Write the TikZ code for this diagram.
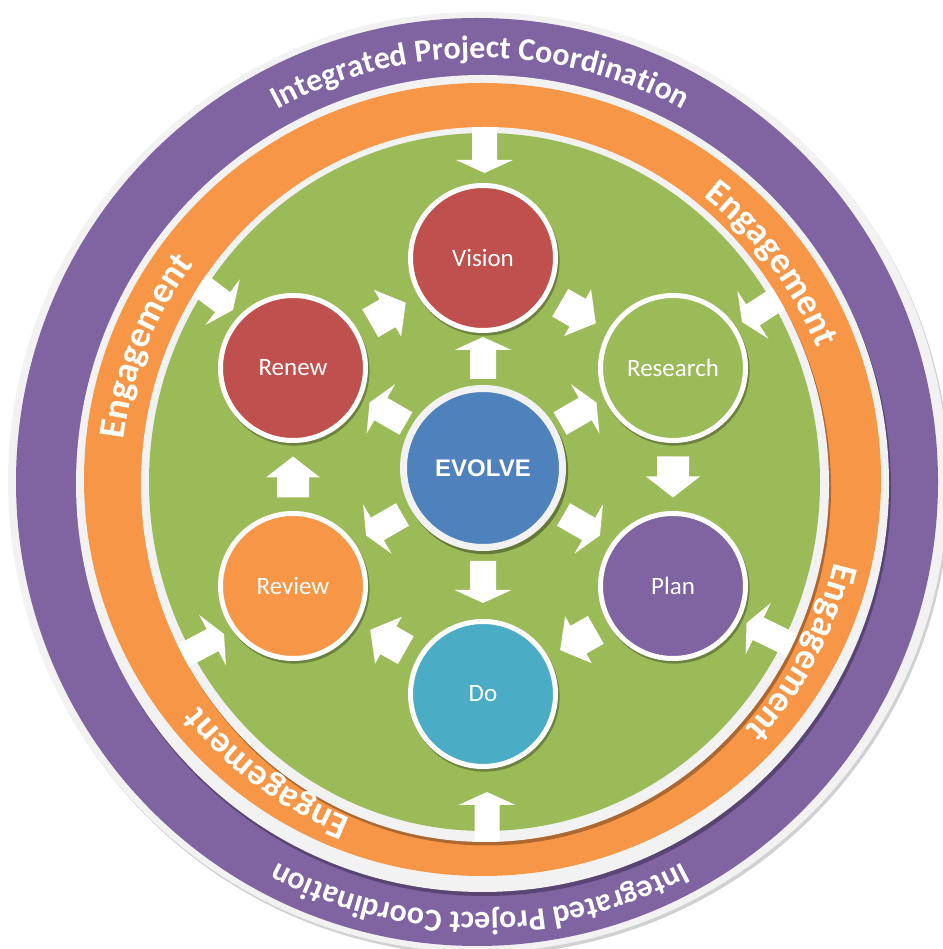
\documentclass[tikz,border=0pt]{standalone}
\usepackage{fontspec}
\setmainfont{Carlito}
\newfontfamily\evolvefont{Liberation Sans}
\usetikzlibrary{calc,decorations.text,shadows}
\definecolor{ringpurple}{HTML}{8064A2}
\definecolor{ringorange}{HTML}{F79646}
\definecolor{ringgreen}{HTML}{9BBB59}
\definecolor{rimgray}{HTML}{F2F2F2}
\definecolor{stagered}{HTML}{C0504D}
\definecolor{hubblue}{HTML}{4F81BD}
\definecolor{stagecyan}{HTML}{4BACC6}
\newcommand\ipcfmt{\fontsize{32pt}{32pt}\selectfont\bfseries\color{white}}
\newcommand\engfmt{\fontsize{37pt}{37pt}\selectfont\bfseries\color{white}}
\tikzset{
  stage/.style={circle, draw=white, line width=5pt, minimum size=145pt, inner sep=0pt,
    text=white, font=\fontsize{25pt}{30pt}\selectfont,
    drop shadow={shadow xshift=1.5pt, shadow yshift=-2.5pt, shadow scale=1.035, opacity=0.3, fill=black}},
  hub/.style={circle, fill=hubblue, draw=rimgray, line width=7pt, minimum size=159pt, inner sep=0pt,
    text=white, font=\evolvefont\bfseries\fontsize{24pt}{28pt}\selectfont,
    drop shadow={shadow xshift=2pt, shadow yshift=-3pt, shadow scale=1.045, opacity=0.35, fill=black}},
  arrowfill/.style={fill=white},
  ringshadow/.style={fill=black, opacity=0.3}
}
\newcommand\cyclearrow[2]{%
  \pgfmathanglebetweenpoints{\pgfpointanchor{#1}{center}}{\pgfpointanchor{#2}{center}}%
  \let\arrang\pgfmathresult
  \fill[arrowfill, shift={($(#1)!0.5!(#2)$)}, rotate=\arrang]
    (-20.5,-16) -- (-0.5,-16) -- (-0.5,-27) -- (20.5,0) -- (-0.5,27) -- (-0.5,16) -- (-20.5,16) -- cycle;}
\newcommand\spokearrow[3]{% hub, angle, distance
  \fill[arrowfill, shift={($(#1)+(#2:#3)$)}, rotate=#2]
    (-21,-13) -- (8,-13) -- (8,-28.5) -- (21,0) -- (8,28.5) -- (8,13) -- (-21,13) -- cycle;}
\newcommand\inarrow[2]{% tip coordinate, angle
  \fill[arrowfill, shift={(#1)}, rotate=#2]
    (-70,-12.5) -- (-13,-12.5) -- (-13,-28.5) -- (0,0) -- (-13,28.5) -- (-13,12.5) -- (-70,12.5) -- cycle;}
\begin{document}
\begin{tikzpicture}[x=1pt,y=1pt]
\useasboundingbox (0,0) rectangle (942,949);
% rings
\fill[black!18] (480,464) circle[radius=470];
\fill[rimgray] (478,467) circle[radius=470];
\fill[ringpurple] (477,467) ellipse[x radius=461, y radius=464];
\fill[ringshadow] (484.5,461.5) ellipse[x radius=406.5, y radius=408.5];
\fill[rimgray] (482.5,465.5) ellipse[x radius=406.5, y radius=408.5];
\fill[ringorange] (482.5,469.5) ellipse[x radius=398.5, y radius=396.5];
\fill[ringshadow] (487,461) ellipse[x radius=344, y radius=357.5];
\fill[rimgray] (485,464.5) ellipse[x radius=344, y radius=357.5];
\fill[ringgreen] (484.5,467) ellipse[x radius=335.5, y radius=349];
% ring texts
\path[decorate, decoration={text along path, text align=center,
  text={|\ipcfmt|Integrated Project Coordination}}]
  ([shift={(480,467)}]130:424) arc[start angle=130, end angle=50, radius=424];
\path[decorate, decoration={text along path, text align=center,
  text={|\ipcfmt|Integrated Project Coordination}}]
  ([shift={(480,467)}]-50:431) arc[start angle=-50, end angle=-130, radius=431];
\path[decorate, decoration={text along path, text align=center, text={|\engfmt|Engagement}}]
  ([shift={(482,467)}]67:361) arc[start angle=67, end angle=7, radius=361];
\path[decorate, decoration={text along path, text align=center, text={|\engfmt|Engagement}}]
  ([shift={(482,467)}]2:361) arc[start angle=2, end angle=-58, radius=361];
\path[decorate, decoration={text along path, text align=center, text={|\engfmt|Engagement}}]
  ([shift={(482,467)}]-96.5:361) arc[start angle=-96.5, end angle=-156.5, radius=361];
\path[decorate, decoration={text along path, text align=center, text={|\engfmt|Engagement}}]
  ([shift={(482,467)}]188:361) arc[start angle=188, end angle=128, radius=361];
% stage circles
\node[stage, fill=stagered] (vision) at (483,691) {Vision};
\node[stage, fill=ringgreen] (research) at (673,581) {Research};
\node[stage, fill=ringpurple] (plan) at (673,363) {Plan};
\node[stage, fill=stagecyan] (do) at (483,255) {Do};
\node[stage, fill=ringorange] (review) at (293,363) {Review};
\node[stage, fill=stagered] (renew) at (293,581) {Renew};
\node[hub] (evolve) at (483,481) {EVOLVE};
% engagement arrows from the ring
\coordinate (intop) at (484.5,776);
\coordinate (inbottom) at (487,157);
\coordinate (inul) at (233,639);
\coordinate (inur) at (742,627);
\coordinate (inlr) at (746.5,326);
\coordinate (inll) at (224,315);
\begin{scope}
\clip (485,464.5) ellipse[x radius=344, y radius=357.5];
\inarrow{intop}{-90}
\inarrow{inbottom}{90}
\inarrow{inul}{-37}
\inarrow{inur}{-147}
\inarrow{inlr}{154}
\inarrow{inll}{28}
\end{scope}
% cycle arrows
\foreach \a/\b in {renew/vision, vision/research, research/plan, plan/do, do/review, review/renew}
  {\cyclearrow{\a}{\b}}
% spoke arrows
\spokearrow{evolve}{90}{110}
\spokearrow{evolve}{30}{110}
\spokearrow{evolve}{150}{110}
\spokearrow{evolve}{-90}{114}
\spokearrow{evolve}{-30}{114}
\spokearrow{evolve}{-150}{114}
\end{tikzpicture}
\end{document}
